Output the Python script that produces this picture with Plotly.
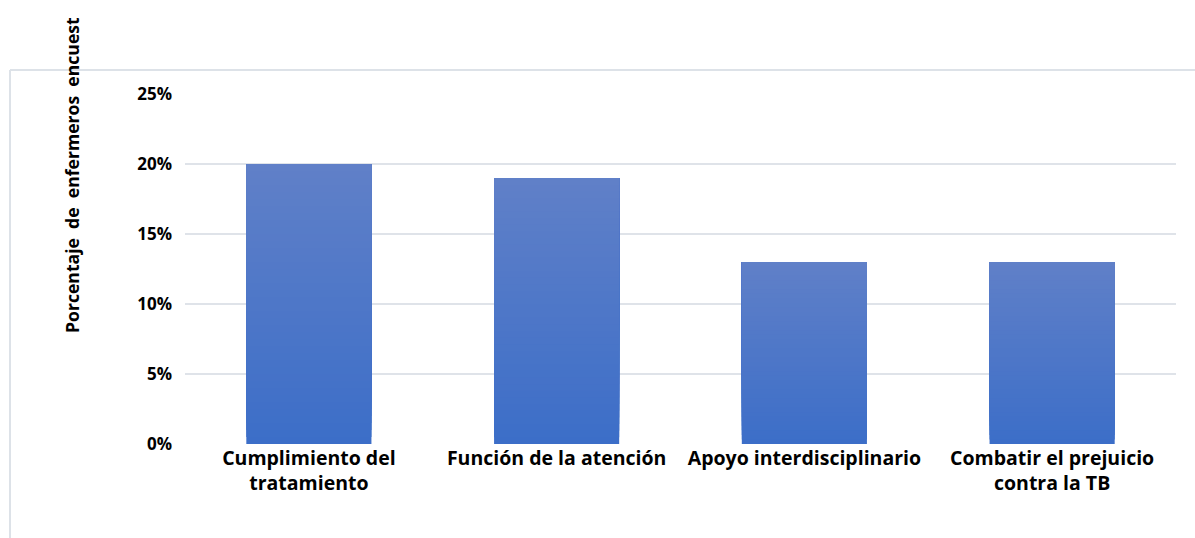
import plotly.graph_objects as go

# Survey data: share of nurses per category
categories = [
    "Cumplimiento del<br>tratamiento",
    "Función de la atención",
    "Apoyo interdisciplinario",
    "Combatir el prejuicio<br>contra la TB",
]
values = [0.20, 0.19, 0.13, 0.13]
tick_vals = [0, 0.05, 0.10, 0.15, 0.20, 0.25]
tick_text = ["0%", "5%", "10%", "15%", "20%", "25%"]
y_title = "Porcentaje  de  enfermeros  encuest"

W, H = 1195, 538
L, R, T, B = 185, 19, 94, 94

# vertical gradient per bar: darker at the base, lighter at the top
top_rgb = (96, 128, 200)
bot_rgb = (60, 110, 200)
N = 40

fig = go.Figure()
# each layer runs from its start fraction up to the bar's value, so the
# layers overlap and leave no seams between gradient steps
for i in range(N):
    f = (i + 0.5) / N
    c = tuple(round(b + (t - b) * f) for b, t in zip(bot_rgb, top_rgb))
    fig.add_trace(go.Bar(
        x=categories,
        y=[v * (1 - i / N) for v in values],
        base=[v * i / N for v in values],
        marker=dict(color="rgb(%d,%d,%d)" % c, line=dict(width=0)),
        width=0.505,
        hoverinfo="skip",
        showlegend=False,
    ))

fig.update_layout(
    width=W, height=H,
    margin=dict(l=L, r=R, t=T, b=B),
    paper_bgcolor="white",
    plot_bgcolor="white",
    barmode="overlay",
    bargap=0.495,
    font=dict(family="Open Sans", size=17, color="#000000"),
    showlegend=False,
)
fig.update_xaxes(
    showgrid=False, showline=False, zeroline=False,
    tickfont=dict(family="Open Sans", size=19.5, color="#000000", weight="bold"),
    ticks="", ticklabelstandoff=0,
)
fig.update_yaxes(
    range=[0, 0.25],
    tickvals=tick_vals, ticktext=tick_text,
    showgrid=True, gridcolor="#dfe3e9", gridwidth=2,
    zeroline=False, showline=False, ticks="",
    ticklabelstandoff=12,
    tickfont=dict(family="Open Sans", size=17, color="#000000", weight="bold"),
)

pw = W - L - R
ph = H - T - B
# frame lines on the left and top edges of the chart area
fig.add_shape(type="line", xref="paper", yref="paper",
              x0=(10 - L) / pw, x1=(10 - L) / pw,
              y0=(H - 70 - B) / ph, y1=(H - 545 - B) / ph,
              line=dict(color="#dde2e8", width=2))
fig.add_shape(type="line", xref="paper", yref="paper",
              x0=(10 - L) / pw, x1=(1200 - L) / pw,
              y0=(H - 70 - B) / ph, y1=(H - 70 - B) / ph,
              line=dict(color="#dde2e8", width=2))

# rotated axis title
fig.add_annotation(
    text=y_title, xref="paper", yref="paper",
    x=(72 - L) / pw, y=(H - 175 - B) / ph,
    xanchor="center", yanchor="middle",
    textangle=-90, showarrow=False,
    font=dict(family="Open Sans", size=17.6, color="#000000", weight="bold"),
)

fig.write_html("out.html")
